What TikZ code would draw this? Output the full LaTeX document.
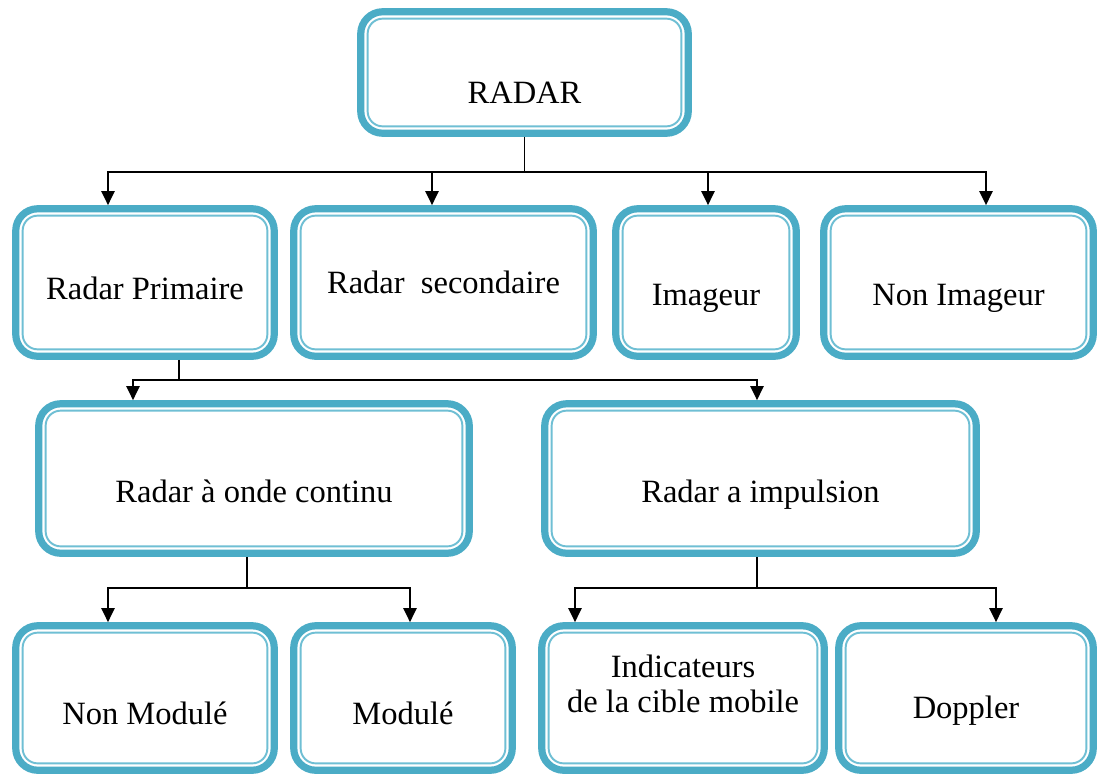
\documentclass[tikz,border=0pt]{standalone}
\usepackage{fontspec}
\setmainfont{Liberation Serif}
\usetikzlibrary{arrows.meta,calc}
\definecolor{boxblue}{HTML}{4BACC6}
\definecolor{innerblue}{HTML}{6FBFD4}

\tikzset{
  box/.style={draw=boxblue, line width=4.1pt, rounded corners=0.44cm, fill=white,
    inner sep=0pt, align=center, font=\fontsize{18.5}{20}\selectfont},
  inner/.style={draw=innerblue, line width=1.1pt, rounded corners=0.3cm},
  low/.style={text height=#1, text depth=0pt},
  link/.style={line width=1.1pt},
  arr/.style={line width=1.1pt, -{Triangle[width=7.5pt,length=8pt]}}
}

\begin{document}
\begin{tikzpicture}
  \useasboundingbox (0,0) rectangle (21.98,-15.5);
  \node[box, low=1.22cm, minimum width=6.55cm, minimum height=2.43cm] (radar) at (10.49,-1.45) {RADAR};
  \node[box, low=0.66cm, minimum width=5.17cm, minimum height=2.95cm] (prim) at (2.9,-5.65) {Radar Primaire};
  \node[box, low=0.42cm, minimum width=5.99cm, minimum height=2.95cm] (sec) at (8.87,-5.65) {Radar\ \ secondaire};
  \node[box, low=0.9cm, minimum width=3.61cm, minimum height=2.95cm] (imag) at (14.12,-5.65) {Imageur};
  \node[box, low=0.9cm, minimum width=5.39cm, minimum height=2.95cm] (nonimag) at (19.17,-5.65) {Non Imageur};
  \node[box, low=0.94cm, minimum width=8.61cm, minimum height=2.99cm] (onde) at (5.08,-9.57) {Radar à onde continu};
  \node[box, low=0.94cm, minimum width=8.63cm, minimum height=2.99cm] (impul) at (15.21,-9.57) {Radar a impulsion};
  \node[box, low=1.04cm, minimum width=5.17cm, minimum height=2.89cm] (nonmod) at (2.9,-13.96) {Non Modulé};
  \node[box, low=1.04cm, minimum width=4.37cm, minimum height=2.89cm] (mod) at (8.06,-13.96) {Modulé};
  \node[box, text height=1.17cm, text depth=0.58cm, minimum width=5.65cm, minimum height=2.89cm] (indic) at (13.66,-13.96) {Indicateurs\\de la cible mobile};
  \node[box, low=0.8cm, minimum width=5.09cm, minimum height=2.89cm] (doppler) at (19.32,-13.96) {Doppler};

  % thin inner border of every box
  \foreach \n in {radar,prim,sec,imag,nonimag,onde,impul,nonmod,mod,indic,doppler}
    \draw[inner] ($(\n.south west)+(0.21,0.21)$) rectangle ($(\n.north east)-(0.21,0.21)$);

  % first level
  \draw[link] (radar.south) -- ++(0,-0.7) coordinate (bus1);
  \draw[arr] (bus1) -| ([xshift=-0.74cm]prim.north);
  \draw[arr] (bus1) -| ([xshift=-0.23cm]sec.north);
  \draw[arr] (bus1) -| ([xshift=0.04cm]imag.north);
  \draw[arr] (bus1) -| ([xshift=0.55cm]nonimag.north);

  % second level
  \draw[link] ([xshift=0.68cm]prim.south) -- ++(0,-0.4) coordinate (bus2);
  \draw[arr] (bus2) -| ([xshift=-2.42cm]onde.north);
  \draw[arr] (bus2) -| ([xshift=-0.07cm]impul.north);

  % third level
  \draw[link] ([xshift=-0.14cm]onde.south) -- ++(0,-0.62) coordinate (bus3);
  \draw[arr] (bus3) -| ([xshift=-0.74cm]nonmod.north);
  \draw[arr] (bus3) -| ([xshift=0.14cm]mod.north);
  \draw[link] ([xshift=-0.07cm]impul.south) -- ++(0,-0.62) coordinate (bus4);
  \draw[arr] (bus4) -| ([xshift=-2.16cm]indic.north);
  \draw[arr] (bus4) -| ([xshift=0.6cm]doppler.north);
\end{tikzpicture}
\end{document}
